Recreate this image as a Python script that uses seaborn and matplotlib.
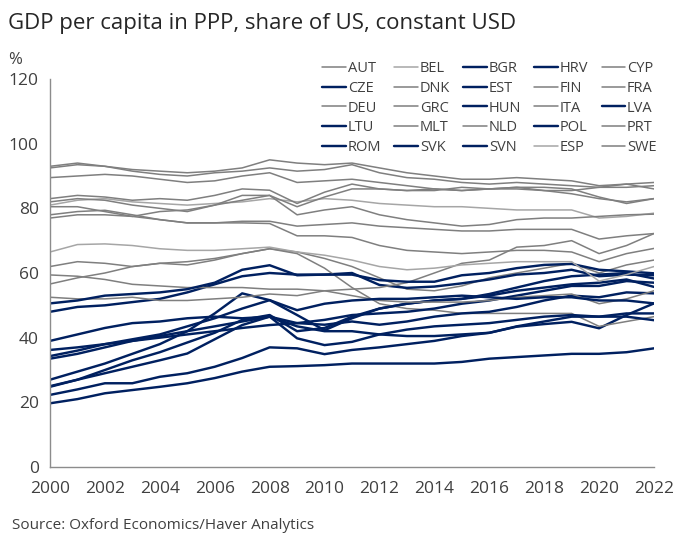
import pandas as pd
import seaborn as sns
import matplotlib.pyplot as plt

years = list(range(2000, 2023))

# legend order (row by row, 5 per row)
order = ['AUT', 'BEL', 'BGR', 'HRV', 'CYP',
         'CZE', 'DNK', 'EST', 'FIN', 'FRA',
         'DEU', 'GRC', 'HUN', 'ITA', 'LVA',
         'LTU', 'MLT', 'NLD', 'POL', 'PRT',
         'ROM', 'SVK', 'SVN', 'ESP', 'SWE']

cee = ['BGR', 'HRV', 'CZE', 'EST', 'HUN', 'LVA', 'LTU', 'POL', 'ROM', 'SVK', 'SVN']
light = ['BEL', 'ESP']

# GDP per capita (PPP) as % of US
AUT = [89.5, 90, 90.5, 90, 89, 88, 88.5, 90, 91, 88, 88.5, 89, 88, 87, 86, 85.5, 86, 86.5, 86.5, 86, 83.5, 81.5, 83]
BEL = [81, 82.5, 83, 82, 81.5, 81, 81.5, 82, 83, 82, 83, 82.5, 81.5, 81, 80.5, 80.5, 80, 79.5, 79.5, 79.5, 77, 77.5, 78.5]
BGR = [19.7, 21, 22.8, 23.8, 24.8, 25.9, 27.5, 29.5, 31, 31.2, 31.5, 32, 32, 32, 32, 32.5, 33.5, 34, 34.5, 35, 35, 35.5, 36.7]
HRV = [33.5, 35, 37, 39, 40.5, 42, 43.5, 45, 46.5, 43.5, 42, 42, 41, 40.5, 40.5, 41, 41.5, 43.4, 44.2, 44.9, 42.9, 47, 50.6]
CYP = [62, 63.5, 63, 62, 63, 62.5, 64, 66, 67.5, 66.5, 64.5, 62, 58.5, 55, 54.5, 56, 58.5, 60, 61.5, 63, 60, 62.5, 64]
CZE = [48, 49.5, 50, 51, 52, 54, 56.5, 59, 60, 59.5, 59.5, 60, 56.3, 55.4, 55.8, 56.8, 58, 59.5, 60, 61, 59, 59.5, 59.3]
DNK = [92.5, 93.5, 93, 91.5, 90.5, 90, 91, 91.5, 92.5, 91.5, 92, 93.5, 91, 89.5, 89, 88, 87.5, 88, 87.5, 87, 86.5, 86.5, 87]
EST = [27, 29.5, 32, 35, 38, 42, 47.5, 53.7, 51.6, 47, 42.3, 46, 49, 50.5, 51.5, 52, 53, 54.5, 55.5, 56.5, 57, 58, 55.7]
FIN = [77, 78, 78, 77.5, 79, 79.5, 81, 84, 84, 78, 79.5, 80.5, 78, 76.5, 75.5, 74.5, 75, 76.5, 77, 77, 77.5, 78, 78.2]
FRA = [78, 79, 79.4, 78, 76.5, 75.5, 75.5, 76, 76, 74.5, 75, 75.5, 74.5, 74, 73.5, 73, 73, 73.5, 73.5, 73.5, 70.5, 71.5, 72.2]
DEU = [82, 83, 82.5, 81, 80, 79, 81, 82.5, 84, 80.5, 83.5, 86, 86, 85.5, 86, 85.5, 86, 86.5, 85.5, 84.5, 83, 82, 83]
GRC = [56.6, 58.5, 60, 62, 63, 63.5, 64.5, 66, 67.5, 66, 61.5, 55.5, 50.5, 49, 48.5, 47.5, 47.5, 47.5, 47.5, 47.5, 43.5, 45, 46.5]
HUN = [39, 41, 43, 44.5, 45, 46, 46.5, 46, 46.5, 44.5, 44, 45, 44, 45, 46.5, 47.5, 48, 49.5, 51.5, 53, 52.5, 54, 53.7]
ITA = [80.5, 80.5, 79, 77.5, 76.5, 75.5, 75.5, 75.5, 75.3, 71.5, 71.5, 71, 68.5, 67, 66.5, 66, 66.5, 67, 67, 66.5, 63.5, 66, 67.6]
LVA = [24.8, 27, 29, 31, 33, 35.1, 39.5, 43.9, 46.5, 39.8, 37.7, 38.7, 41, 42.5, 43.5, 44, 44.5, 45.5, 46.5, 47, 46.5, 46.5, 45.4]
LTU = [25, 27, 30, 33, 35.5, 38.5, 41.5, 45.5, 47, 42, 43, 46.5, 49, 50.5, 51.5, 52, 53.5, 55.5, 57.5, 59, 59.5, 60, 58.3]
MLT = [52.5, 52, 52, 52.5, 51.5, 51.5, 52, 52.5, 53.5, 53, 54.5, 55, 55.5, 57, 60, 63, 64, 68, 68.5, 70, 66, 68.5, 72.2]
NLD = [93, 94, 93, 92, 91.5, 91, 91.5, 92.5, 95, 94, 93.5, 94, 92.5, 91, 90, 89, 89, 89.5, 89, 88.5, 87, 87.5, 88]
POL = [36.2, 37, 38, 39, 40, 41, 42, 43, 43.9, 44.5, 45.5, 47, 47.5, 48, 49, 50.5, 51.5, 53, 54.5, 56, 56, 57.5, 57]
PRT = [59.4, 59, 58, 56.5, 56, 55.5, 55.5, 55.5, 55, 55, 54.5, 53, 51.5, 51, 51, 51, 51.5, 52.5, 53, 53.5, 50.5, 52, 54.5]
ROM = [22.3, 24, 25.9, 25.9, 27.9, 29, 31, 33.7, 37, 36.7, 34.9, 36.2, 37, 38, 39, 40.5, 41.5, 43.5, 45, 46.5, 46.5, 47.5, 47.5]
SVK = [34.3, 36, 38, 39.5, 41, 43.5, 46, 49, 51.6, 48.5, 50.5, 51.5, 52, 52, 52.5, 53, 52.5, 52, 52.5, 52.5, 51.5, 51.5, 50.6]
SVN = [50.6, 51.5, 53, 53.5, 54, 55, 57, 61, 62.4, 59.3, 59.5, 59.5, 57.8, 57.3, 57.3, 59.3, 60, 61.5, 62.5, 62.8, 61, 60.5, 59.9]
ESP = [66.5, 68.8, 69, 68.5, 67.5, 67, 67, 67.5, 68, 66.5, 65.5, 64, 62, 61, 61.5, 62.5, 63, 63.5, 63.5, 63.5, 57.5, 59.5, 62]
SWE = [83, 84, 83.5, 82.5, 83, 82.5, 84, 86, 85.6, 81.5, 85, 87.5, 86, 85.5, 85.5, 86.5, 86, 86, 85.5, 85.5, 86.5, 87.5, 86]

series = {'AUT': AUT, 'BEL': BEL, 'BGR': BGR, 'HRV': HRV, 'CYP': CYP,
          'CZE': CZE, 'DNK': DNK, 'EST': EST, 'FIN': FIN, 'FRA': FRA,
          'DEU': DEU, 'GRC': GRC, 'HUN': HUN, 'ITA': ITA, 'LVA': LVA,
          'LTU': LTU, 'MLT': MLT, 'NLD': NLD, 'POL': POL, 'PRT': PRT,
          'ROM': ROM, 'SVK': SVK, 'SVN': SVN, 'ESP': ESP, 'SWE': SWE}

df = pd.DataFrame(series, index=years).reset_index(names='year')
df = df.melt(id_vars='year', var_name='country', value_name='share')

sns.set_style('white')
plt.rcParams['font.family'] = ['Open Sans', 'DejaVu Sans']

BLUE = '#002060'
GREY = '#7f7f7f'
LGREY = '#a6a6a6'
TXT = '#404040'
AXC = '#8c8c8c'

fig = plt.figure(figsize=(6.8, 5.43), dpi=100)
ax = fig.add_axes([50 / 680, 1 - 467 / 543, 604 / 680, 388 / 543])

for c in order:
    if c in cee:
        col, lw = BLUE, 1.75
    elif c in light:
        col, lw = LGREY, 1.1
    else:
        col, lw = GREY, 1.1
    sns.lineplot(data=df[df['country'] == c], x='year', y='share',
                 color=col, linewidth=lw, label=c, ax=ax, legend=False)

ax.set_xlim(2000, 2022)
ax.set_ylim(0, 120)
ax.set_xticks(range(2000, 2023, 2))
ax.set_yticks(range(0, 121, 20))
ax.set_xlabel('')
ax.set_ylabel('')
ax.tick_params(axis='both', labelsize=12.5, labelcolor=TXT, length=5,
               color=AXC, width=1, direction='out', pad=5)
ax.tick_params(axis='y', pad=3)
for s in ['top', 'right']:
    ax.spines[s].set_visible(False)
for s in ['left', 'bottom']:
    ax.spines[s].set_color(AXC)
    ax.spines[s].set_linewidth(1)

# legend: reorder so items fill row by row
handles, labels = ax.get_legend_handles_labels()
hmap = dict(zip(labels, handles))
col_major = [order[r * 5 + k] for k in range(5) for r in range(5)]
leg = fig.legend([hmap[l] for l in col_major], col_major, ncol=5,
                 loc='upper right', bbox_to_anchor=(0.985, 0.912),
                 frameon=False, fontsize=10.5, handlelength=1.6,
                 handletextpad=0.15, columnspacing=0.9, labelspacing=0.33)
for t in leg.get_texts():
    t.set_color(TXT)

fig.text(0.012, 0.957, 'GDP per capita in PPP, share of US, constant USD',
         fontsize=16, color='#262626', ha='left', va='center')
fig.text(0.012, 0.89, '%', fontsize=12, color=TXT, ha='left', va='center')
fig.text(0.017, 0.033, 'Source: Oxford Economics/Haver Analytics',
         fontsize=11, color=TXT, ha='left', va='center')

fig.savefig('out.png', dpi=100)
